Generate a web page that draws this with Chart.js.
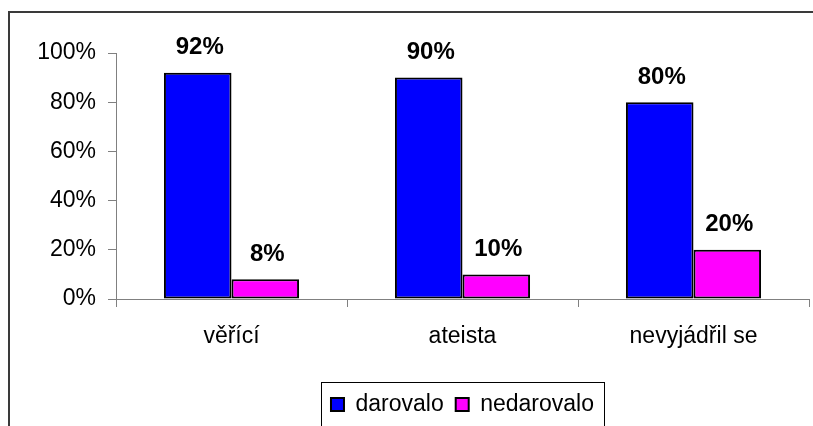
<!DOCTYPE html>
<html>
<head>
<meta charset="utf-8">
<script src="https://cdn.jsdelivr.net/npm/chart.js@4/dist/chart.umd.min.js"></script>
<style>
  html, body { margin: 0; padding: 0; background: #fff; }
  #wrap { position: relative; width: 813px; height: 426px; }
</style>
</head>
<body>
<div id="wrap"><canvas id="chart" width="813" height="426"></canvas></div>
<script>
const categories = ['věřící', 'ateista', 'nevyjádřil se'];
const darovalo = [92, 90, 80];
const nedarovalo = [8, 10, 20];
const yTicks = [0, 20, 40, 60, 80, 100];

const FONT = 'Liberation Sans, Arial, sans-serif';

// white page + the dark frame around the whole chart (cut off right and bottom)
const framePlugin = {
    id: 'frame',
    beforeDraw(chart) {
        const ctx = chart.ctx;
        ctx.save();
        ctx.fillStyle = '#fff';
        ctx.fillRect(0, 0, chart.width, chart.height);
        ctx.strokeStyle = '#3a3a3a';
        ctx.lineWidth = 2;
        ctx.strokeRect(9, 12, chart.width + 20, chart.height + 20);
        ctx.restore();
    }
};

// box round the legend items
const legendBoxPlugin = {
    id: 'legendBox',
    afterDraw(chart) {
        const boxes = chart.legend.legendHitBoxes;
        if (!boxes || !boxes.length) return;
        const left = boxes[0].left - 10;
        const last = boxes[boxes.length - 1];
        const right = last.left + last.width + 10;
        const top = boxes[0].top - 11;
        const bottom = boxes[0].top + boxes[0].height + 11;
        const ctx = chart.ctx;
        ctx.save();
        ctx.strokeStyle = '#000';
        ctx.lineWidth = 1;
        ctx.strokeRect(Math.round(left) + 0.5, Math.round(top) + 0.5, Math.round(right - left), Math.round(bottom - top));
        ctx.restore();
    }
};

// percent labels above the bars
const valueLabels = {
    id: 'valueLabels',
    afterDatasetsDraw(chart) {
        const ctx = chart.ctx;
        ctx.save();
        ctx.font = 'bold 24px ' + FONT;
        ctx.fillStyle = '#000';
        ctx.textAlign = 'center';
        ctx.textBaseline = 'bottom';
        chart.data.datasets.forEach((ds, i) => {
            chart.getDatasetMeta(i).data.forEach((bar, j) => {
                ctx.fillText(ds.data[j] + '%', bar.x + 2, bar.y - 13);
            });
        });
        ctx.restore();
    }
};

new Chart(document.getElementById('chart'), {
    type: 'bar',
    data: {
        labels: categories,
        datasets: [
            {
                label: 'darovalo',
                data: darovalo,
                backgroundColor: '#0000FF',
                borderColor: '#000',
                borderWidth: 2,
                borderSkipped: false
            },
            {
                label: 'nedarovalo',
                data: nedarovalo,
                backgroundColor: '#FF00FF',
                borderColor: '#000',
                borderWidth: 2,
                borderSkipped: false
            }
        ]
    },
    options: {
        responsive: false,
        animation: false,
        events: [],
        categoryPercentage: 0.585,
        barPercentage: 1,
        layout: {
            padding: {top: 53, right: 4, left: 0, bottom: 0}
        },
        plugins: {
            tooltip: {enabled: false},
            title: {display: false},
            legend: {
                position: 'bottom',
                fullSize: false,
                labels: {
                    color: '#000',
                    font: {family: FONT, size: 23},
                    boxWidth: 13,
                    boxHeight: 13,
                    padding: 12,
                    generateLabels(chart) {
                        return chart.data.datasets.map((ds, i) => ({
                            text: ds.label,
                            fillStyle: ds.backgroundColor,
                            strokeStyle: '#000',
                            lineWidth: 2,
                            datasetIndex: i
                        }));
                    }
                }
            }
        },
        scales: {
            x: {
                grid: {
                    drawOnChartArea: false,
                    color: '#808080',
                    tickLength: 8,
                    offset: true
                },
                border: {color: '#808080', width: 1},
                ticks: {
                    color: '#000',
                    font: {family: FONT, size: 23},
                    padding: 16
                },
                afterFit(scale) { scale.height = 82; }
            },
            y: {
                min: 0,
                max: 100,
                afterBuildTicks(scale) {
                    scale.ticks = yTicks.map(v => ({value: v}));
                },
                grid: {
                    drawOnChartArea: false,
                    color: '#808080',
                    tickLength: 8
                },
                border: {color: '#808080', width: 1},
                ticks: {
                    color: '#000',
                    font: {family: FONT, size: 23},
                    padding: 12,
                    callback: v => v + '%'
                },
                afterFit(scale) { scale.width = 116; }
            }
        }
    },
    plugins: [framePlugin, legendBoxPlugin, valueLabels]
});
</script>
</body>
</html>
